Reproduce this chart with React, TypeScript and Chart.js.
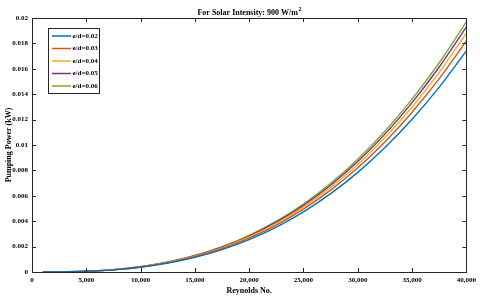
import { useEffect, useRef } from "react";
import { Chart, registerables } from "chart.js";

Chart.register(...registerables);

// Reynolds numbers sampled along the curves
const reynolds = [1000, 2500, 5000, 7500, 10000, 12500, 15000, 17500, 20000, 22500, 25000, 27500, 30000, 32500, 35000, 37500, 40000];

// Pumping power (kW)
const ed002 = [0.0000006, 0.000008, 0.0000548, 0.000169, 0.000374, 0.000694, 0.001151, 0.001764, 0.002552, 0.003536, 0.004736, 0.006167, 0.007847, 0.009795, 0.012027, 0.01456, 0.01741];
const ed003 = [0.0000007, 0.0000084, 0.0000573, 0.000176, 0.000391, 0.000726, 0.001203, 0.001844, 0.002668, 0.003696, 0.00495, 0.006446, 0.008203, 0.010239, 0.012573, 0.015221, 0.0182];
const ed004 = [0.0000007, 0.0000087, 0.0000592, 0.000182, 0.000404, 0.00075, 0.001242, 0.001904, 0.002756, 0.003818, 0.005114, 0.006659, 0.008473, 0.010577, 0.012987, 0.015722, 0.0188];
const ed005 = [0.0000007, 0.0000089, 0.0000608, 0.000187, 0.000415, 0.00077, 0.001276, 0.001955, 0.002829, 0.00392, 0.00525, 0.006836, 0.008699, 0.010858, 0.013332, 0.016141, 0.0193];
const ed006 = [0.0000007, 0.0000091, 0.0000621, 0.000191, 0.000423, 0.000786, 0.001302, 0.001996, 0.002888, 0.004001, 0.005358, 0.006978, 0.008879, 0.011083, 0.013609, 0.016475, 0.0197];

const seriesLabels = ["e/d=0.02", "e/d=0.03", "e/d=0.04", "e/d=0.05", "e/d=0.06"];
const seriesValues = [ed002, ed003, ed004, ed005, ed006];
const seriesColors = ["#0072BD", "#D95319", "#EDB120", "#7E2F8E", "#77AC30"];

const titleMain = "For Solar Intensity: 900 W/m";
const titleSup = "2";
const xTitle = "Reynolds No.";
const yTitle = "Pumping Power (kW)";

const SERIF = '"Liberation Serif", "Times New Roman", serif';
const AXIS_COLOR = "#262626";

const boxPlugin = {
  id: "matlabBox",
  afterDraw(chart: any) {
    const ctx = chart.ctx;
    const { left, right, top, bottom } = chart.chartArea;
    const xs = chart.scales.x;
    const ys = chart.scales.y;
    ctx.save();
    ctx.strokeStyle = AXIS_COLOR;
    ctx.lineWidth = 1;
    // box
    ctx.strokeRect(Math.round(left) + 0.5, Math.round(top) + 0.5, Math.round(right - left), Math.round(bottom - top));
    // ticks inward
    const tl = 4;
    ctx.beginPath();
    xs.ticks.forEach((t: any) => {
      const px = Math.round(xs.getPixelForValue(t.value)) + 0.5;
      ctx.moveTo(px, bottom);
      ctx.lineTo(px, bottom - tl);
      ctx.moveTo(px, top);
      ctx.lineTo(px, top + tl);
    });
    ys.ticks.forEach((t: any) => {
      const py = Math.round(ys.getPixelForValue(t.value)) + 0.5;
      ctx.moveTo(left, py);
      ctx.lineTo(left + tl, py);
      ctx.moveTo(right, py);
      ctx.lineTo(right - tl, py);
    });
    ctx.stroke();

    // legend
    const lx = 48.5, ly = 28.5, lw = 51, lh = 65;
    ctx.fillStyle = "#ffffff";
    ctx.fillRect(lx, ly, lw, lh);
    ctx.strokeStyle = "#262626";
    ctx.strokeRect(lx, ly, lw, lh);
    ctx.font = `bold 7px ${SERIF}`;
    ctx.textBaseline = "middle";
    ctx.textAlign = "left";
    chart.data.datasets.forEach((ds: any, i: number) => {
      const ry = 36 + i * 12.5;
      ctx.strokeStyle = ds.borderColor;
      ctx.lineWidth = 1.5;
      ctx.beginPath();
      ctx.moveTo(52, ry);
      ctx.lineTo(71, ry);
      ctx.stroke();
      ctx.fillStyle = "#000";
      ctx.fillText(ds.label, 72.5, ry);
    });

    // title with superscript
    ctx.fillStyle = "#000";
    ctx.textBaseline = "alphabetic";
    ctx.textAlign = "left";
    ctx.font = `bold 8px ${SERIF}`;
    const mainW = ctx.measureText(titleMain).width;
    ctx.font = `bold 6px ${SERIF}`;
    const supW = ctx.measureText(titleSup).width;
    const startX = (left + right) / 2 - (mainW + supW) / 2;
    ctx.font = `bold 8px ${SERIF}`;
    ctx.fillText(titleMain, startX, 15);
    ctx.font = `bold 6px ${SERIF}`;
    ctx.fillText(titleSup, startX + mainW + 0.5, 11);
    ctx.restore();
  },
};

export default function App() {
  const ref = useRef<HTMLCanvasElement | null>(null);
  useEffect(() => {
    document.body.style.margin = "0";
    if (!ref.current) return;
    const chart = new Chart(ref.current, {
      type: "line",
      data: {
        datasets: seriesLabels.map((label, i) => ({
          label,
          data: reynolds.map((re, j) => ({ x: re, y: seriesValues[i][j] })),
          borderColor: seriesColors[i],
          backgroundColor: seriesColors[i],
          borderWidth: 1.4,
          pointRadius: 0,
          cubicInterpolationMode: "monotone" as const,
          fill: false,
        })),
      },
      options: {
        responsive: false,
        animation: false,
        layout: { padding: { top: 18, right: 13, left: 0, bottom: 0 } },
        plugins: {
          legend: { display: false },
          title: { display: false },
          tooltip: { enabled: false },
        },
        scales: {
          x: {
            type: "linear",
            min: 0,
            max: 40000,
            grid: { display: false, drawTicks: false },
            border: { display: false },
            ticks: {
              stepSize: 5000,
              padding: 4,
              color: "#000",
              maxRotation: 0,
              font: { family: SERIF, size: 7, weight: "bold" },
              callback: (v: any) => Number(v).toLocaleString("en-US"),
            },
            title: {
              display: true,
              text: xTitle,
              color: "#000",
              padding: { top: 1, bottom: 5 },
              font: { family: SERIF, size: 8, weight: "bold" },
            },
            afterFit: (s: any) => {
              s.height = 29;
            },
          },
          y: {
            type: "linear",
            min: 0,
            max: 0.02,
            grid: { display: false, drawTicks: false },
            border: { display: false },
            ticks: {
              stepSize: 0.002,
              padding: 4,
              color: "#000",
              font: { family: SERIF, size: 7, weight: "bold" },
              callback: (v: any) => (Number(v) === 0 ? "0" : String(Number(Number(v).toFixed(3)))),
            },
            title: {
              display: true,
              text: yTitle,
              color: "#000",
              padding: { top: 4, bottom: 0 },
              font: { family: SERIF, size: 8, weight: "bold" },
            },
            afterFit: (s: any) => {
              s.width = 32;
            },
          },
        },
      },
      plugins: [boxPlugin],
    });
    return () => chart.destroy();
  }, []);
  return (
    <div style={{ width: 480, height: 301 }}>
      <canvas ref={ref} width={480} height={301} style={{ display: "block" }} />
    </div>
  );
}
